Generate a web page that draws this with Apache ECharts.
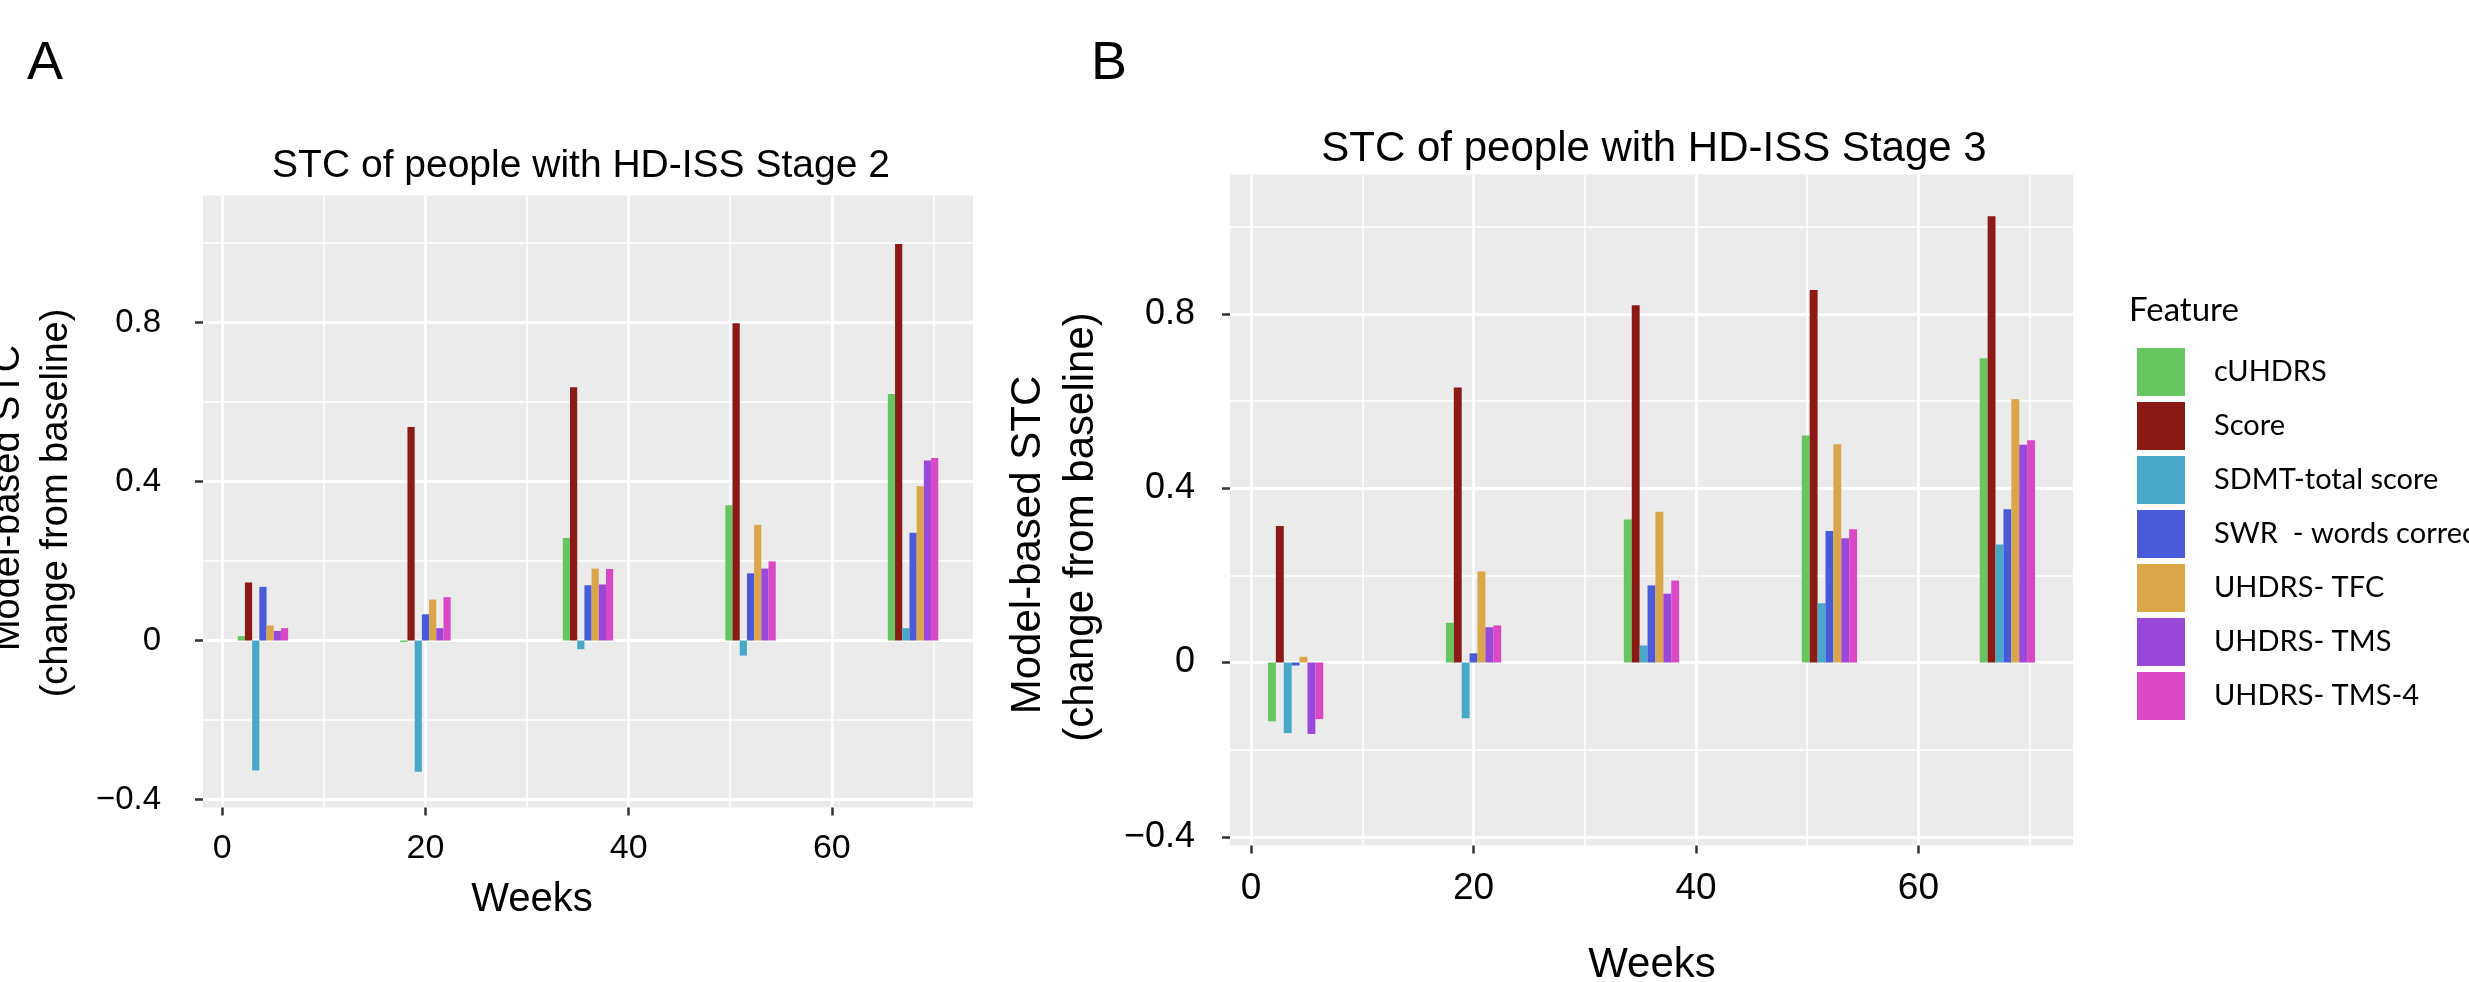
<!DOCTYPE html>
<html>
<head>
<meta charset="utf-8">
<script src="https://cdn.jsdelivr.net/npm/echarts@6/dist/echarts.min.js"></script>
<style>html,body{margin:0;padding:0;background:#fff;}#c{width:2469px;height:982px;}</style>
</head>
<body>
<div id="c"></div>
<script>
// ---- data ----
const weeks = [4, 20, 36, 52, 68];
const features = ['cUHDRS', 'Score', 'SDMT-total score', 'SWR  - words correct', 'UHDRS- TFC', 'UHDRS- TMS', 'UHDRS- TMS-4'];
const colors = ['#66C65F', '#8B1A15', '#48A8C8', '#4A5BDA', '#DBA54A', '#9A48DA', '#DB48C6'];
const xTicks = [0, 20, 40, 60];
const xMinor = [10, 30, 50, 70];
const yTicks = [-0.4, 0, 0.4, 0.8];
const yMinor = [-0.2, 0.2, 0.6, 1.0];

// Stage 2 (panel A)
const s2_cUHDRS = [0.011, -0.004, 0.258, 0.340, 0.620];
const s2_Score  = [0.146, 0.537, 0.637, 0.798, 0.998];
const s2_SDMT   = [-0.327, -0.330, -0.022, -0.038, 0.031];
const s2_SWR    = [0.135, 0.066, 0.139, 0.169, 0.271];
const s2_TFC    = [0.038, 0.103, 0.181, 0.291, 0.388];
const s2_TMS    = [0.024, 0.031, 0.141, 0.181, 0.453];
const s2_TMS4   = [0.031, 0.109, 0.180, 0.199, 0.459];

// Stage 3 (panel B)
const s3_cUHDRS = [-0.135, 0.091, 0.328, 0.521, 0.698];
const s3_Score  = [0.313, 0.631, 0.820, 0.855, 1.024];
const s3_SDMT   = [-0.162, -0.128, 0.039, 0.136, 0.271];
const s3_SWR    = [-0.007, 0.021, 0.177, 0.302, 0.352];
const s3_TFC    = [0.013, 0.209, 0.346, 0.501, 0.604];
const s3_TMS    = [-0.164, 0.081, 0.158, 0.285, 0.500];
const s3_TMS4   = [-0.130, 0.085, 0.188, 0.306, 0.510];

const stage2 = [s2_cUHDRS, s2_Score, s2_SDMT, s2_SWR, s2_TFC, s2_TMS, s2_TMS4];
const stage3 = [s3_cUHDRS, s3_Score, s3_SDMT, s3_SWR, s3_TFC, s3_TMS, s3_TMS4];

// ---- layout ----
const X_MIN = -1.9, X_MAX = 73.9, Y_MIN = -0.42, Y_MAX = 1.12;
const FF = 'Liberation Sans, Arial, sans-serif';
const panels = [
  { grid: { left: 203, top: 195.4, width: 770, height: 612 }, tickFont: 34, yFont: 33, yMargin: 42, xMargin: 24, barW: 7.2 },
  { grid: { left: 1230, top: 174.5, width: 843, height: 671 }, tickFont: 37, yFont: 36, yMargin: 35, xMargin: 25, barW: 7.9 }
];

const yFmt = v => (v < 0 ? '\u2212' + Math.abs(v) : String(v));

const grids = [], xAxes = [], yAxes = [], series = [];
panels.forEach((p, pi) => {
  grids.push(Object.assign({ show: true, backgroundColor: '#EBEBEB', borderWidth: 0, containLabel: false }, p.grid));
  // major x
  xAxes.push({
    type: 'value', gridIndex: pi, min: X_MIN, max: X_MAX, position: 'bottom',
    axisLine: { show: false, onZero: false },
    axisTick: { show: true, customValues: xTicks, length: 8, lineStyle: { color: '#333', width: 2.5 } },
    axisLabel: { show: true, customValues: xTicks, fontSize: p.tickFont, color: '#000', fontFamily: FF, margin: p.xMargin },
    splitLine: { show: true, lineStyle: { color: '#FFFFFF', width: 2.8 } }
  });
  // minor x
  xAxes.push({
    type: 'value', gridIndex: pi, min: X_MIN, max: X_MAX, position: 'bottom',
    axisLine: { show: false, onZero: false },
    axisTick: { show: false, customValues: xMinor },
    axisLabel: { show: false, customValues: xMinor },
    splitLine: { show: true, lineStyle: { color: '#FFFFFF', width: 1.5 } }
  });
  yAxes.push({
    type: 'value', gridIndex: pi, min: Y_MIN, max: Y_MAX, position: 'left',
    axisLine: { show: false, onZero: false },
    axisTick: { show: true, customValues: yTicks, length: 8, lineStyle: { color: '#333', width: 2.5 } },
    axisLabel: { show: true, customValues: yTicks, fontSize: p.yFont, color: '#000', fontFamily: FF, margin: p.yMargin, formatter: yFmt },
    splitLine: { show: true, lineStyle: { color: '#FFFFFF', width: 2.8 } }
  });
  yAxes.push({
    type: 'value', gridIndex: pi, min: Y_MIN, max: Y_MAX, position: 'left',
    axisLine: { show: false, onZero: false },
    axisTick: { show: false, customValues: yMinor },
    axisLabel: { show: false, customValues: yMinor },
    splitLine: { show: true, lineStyle: { color: '#FFFFFF', width: 1.5 } }
  });
  const vals = pi === 0 ? stage2 : stage3;
  features.forEach((f, i) => {
    series.push({
      type: 'bar', name: f, xAxisIndex: pi * 2, yAxisIndex: pi * 2,
      barWidth: p.barW, barGap: '0%',
      itemStyle: { color: colors[i] },
      data: weeks.map((w, j) => [w, vals[i][j]]),
      z: 3
    });
  });
});

const txt = (text, x, y, size, opts) => Object.assign({
  type: 'text', x: x, y: y, silent: true,
  style: Object.assign({ text: text, fontSize: size, fontFamily: FF, fill: '#000', textAlign: 'center', textVerticalAlign: 'middle' }, (opts && opts.style) || {})
}, opts && opts.rotation != null ? { rotation: opts.rotation } : {});

const chart = echarts.init(document.getElementById('c'), null, { renderer: 'canvas' });
chart.setOption({
  animation: false,
  backgroundColor: '#FFFFFF',
  textStyle: { fontFamily: FF },
  grid: grids,
  xAxis: xAxes,
  yAxis: yAxes,
  series: series,
  legend: {
    data: features, orient: 'vertical', left: 2132, top: 343,
    itemWidth: 48, itemHeight: 48, itemGap: 6, icon: 'rect', selectedMode: false,
    textStyle: { fontFamily: 'Lato, Open Sans, sans-serif', fontSize: 29, color: '#000', padding: [0, 0, 0, 24] }
  },
  graphic: [
    txt('A', 27, 64, 54, { style: { textAlign: 'left' } }),
    txt('B', 1091, 64, 54, { style: { textAlign: 'left' } }),
    txt('STC of people with HD-ISS Stage 2', 581, 166, 39),
    txt('STC of people with HD-ISS Stage 3', 1654, 149, 42),
    txt('Model-based STC', 9, 498, 38, { rotation: Math.PI / 2 }),
    txt('(change from baseline)', 57, 503, 38, { rotation: Math.PI / 2 }),
    txt('Model-based STC', 1028, 545, 42, { rotation: Math.PI / 2 }),
    txt('(change from baseline)', 1081, 527, 42, { rotation: Math.PI / 2 }),
    txt('Weeks', 532, 900, 40),
    txt('Weeks', 1652, 965, 42),
    txt('Feature', 2129, 310, 33, { style: { textAlign: 'left', fontFamily: 'Lato, Open Sans, sans-serif' } })
  ]
});
</script>
</body>
</html>
